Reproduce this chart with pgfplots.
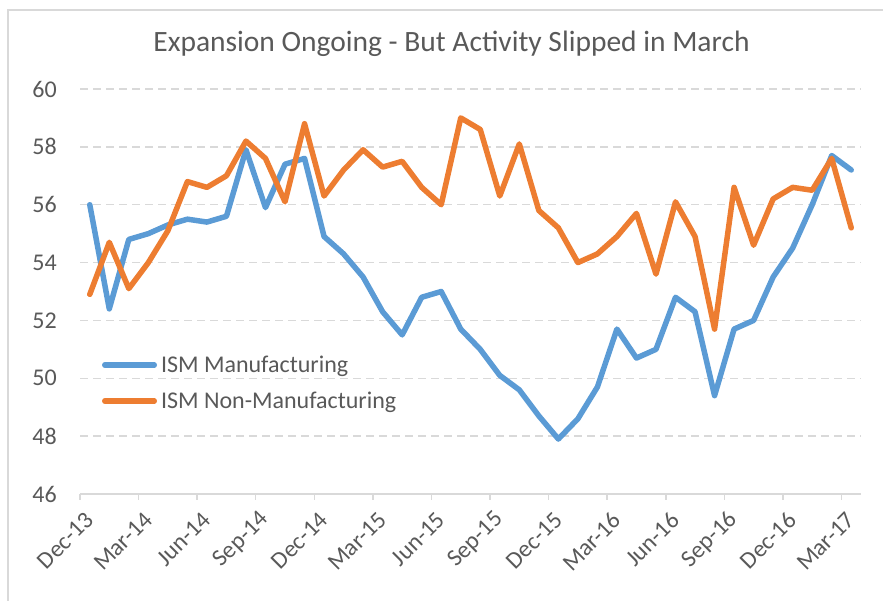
\documentclass[border=0pt]{standalone}
\usepackage{fontspec}
\setmainfont{Carlito}
\usepackage{pgfplots}
\usepackage{pgfplotstable}
\pgfplotsset{compat=1.18}
\definecolor{mfgblue}{HTML}{5B9BD5}
\definecolor{nmforange}{HTML}{ED7D31}
\definecolor{txtgray}{HTML}{595959}
\definecolor{linegray}{HTML}{D9D9D9}

\pgfplotstableread{
k v
0 56.0
1 52.4
2 54.8
3 55.0
4 55.3
5 55.5
6 55.4
7 55.6
8 57.9
9 55.9
10 57.4
11 57.6
12 54.9
13 54.3
14 53.5
15 52.3
16 51.5
17 52.8
18 53.0
19 51.7
20 51.0
21 50.1
22 49.6
23 48.7
24 47.9
25 48.6
26 49.7
27 51.7
28 50.7
29 51.0
30 52.8
31 52.3
32 49.4
33 51.7
34 52.0
35 53.5
36 54.5
37 56.0
38 57.7
39 57.2
}\mfgdata

\pgfplotstableread{
k v
0 52.9
1 54.7
2 53.1
3 54.0
4 55.1
5 56.8
6 56.6
7 57.0
8 58.2
9 57.6
10 56.1
11 58.8
12 56.3
13 57.2
14 57.9
15 57.3
16 57.5
17 56.6
18 56.0
19 59.0
20 58.6
21 56.3
22 58.1
23 55.8
24 55.2
25 54.0
26 54.3
27 54.9
28 55.7
29 53.6
30 56.1
31 54.9
32 51.7
33 56.6
34 54.6
35 56.2
36 56.6
37 56.5
38 57.6
39 55.2
}\nmfdata

\begin{document}
\begin{tikzpicture}
\path[use as bounding box] (0,0) rectangle (883bp,601bp);
\draw[linegray, line width=1.5bp] (8bp,0bp) -- (8bp,591bp) -- (883bp,591bp);
\begin{axis}[
  at={(80bp,107bp)}, anchor=south west,
  scale only axis,
  width=781bp, height=405bp,
  xmin=-0.5, xmax=39.5,
  ymin=46, ymax=60,
  ytick={46,48,...,60},
  xtick={0,3,...,39},
  xticklabels={Dec-13,Mar-14,Jun-14,Sep-14,Dec-14,Mar-15,Jun-15,Sep-15,Dec-15,Mar-16,Jun-16,Sep-16,Dec-16,Mar-17},
  extra x ticks={-0.5,2.5,...,38.5},
  extra x tick labels={},
  extra x tick style={major tick length=6bp, xmajorgrids=false},
  major tick length=0pt,
  tick align=outside,
  tick style={draw=linegray, line width=1.5bp},
  axis x line*=bottom,
  axis y line*=left,
  x axis line style={draw=linegray, line width=1.5bp, -},
  y axis line style={draw=none},
  ymajorgrids=true,
  major grid style={draw=linegray, line width=1.5bp, dash pattern=on 8bp off 5bp},
  /pgf/number format/assume math mode=true,
  ticklabel style={font=\fontsize{24bp}{28bp}\selectfont, text=txtgray},
  yticklabel style={anchor=east, inner sep=0pt, xshift=-23bp},
  xticklabel style={inner sep=0pt, yshift=-22bp, rotate=45, anchor=east},
  title={Expansion Ongoing - But Activity Slipped in March},
  title style={at={(axis description cs:0.4757,1.0783)}, anchor=base,
    inner sep=0pt, font=\fontsize{29.5bp}{34bp}\selectfont, text=txtgray},
  legend cell align=left,
  legend style={at={(axis description cs:0.0282,0.274)}, anchor=west,
    draw=none, fill=none, inner sep=0pt, outer sep=0pt,
    nodes={inner sep=0pt, text=txtgray}, row sep=18bp, column sep=4bp,
    font=\fontsize{24bp}{28bp}\selectfont},
  legend image code/.code={\draw[#1, line cap=round] (2.75bp,0bp) -- (52.25bp,0bp);},
  every axis plot/.append style={line width=5.5bp, line join=round, line cap=round, mark=none},
]
\addplot[mfgblue] table[x=k, y=v] {\mfgdata};
\addlegendentry{ISM Manufacturing}
\addplot[nmforange] table[x=k, y=v] {\nmfdata};
\addlegendentry{ISM Non-Manufacturing}
\end{axis}
\end{tikzpicture}
\end{document}
